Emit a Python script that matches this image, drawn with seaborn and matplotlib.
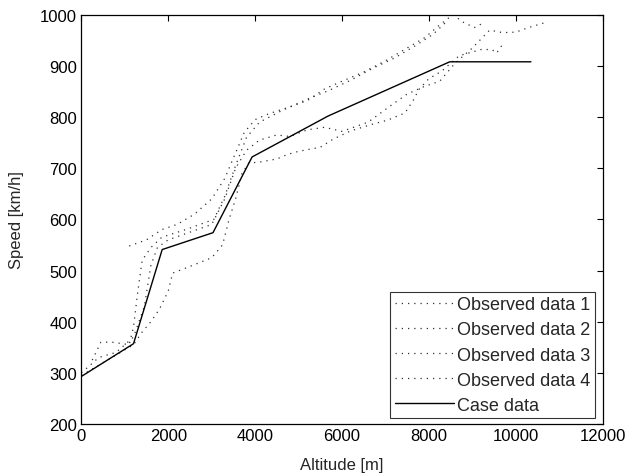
import matplotlib
matplotlib.use("Agg")
import matplotlib.pyplot as plt
import seaborn as sns
import pandas as pd

# ---- data ----
obs1_alt = [1100, 1500, 1850, 2200, 2600, 3000, 3300, 3550, 3750, 4000, 4300, 4800, 5200, 5600, 6000, 6500, 7000, 7500, 7900, 8250, 8550, 8800, 9050, 9300]
obs1_spd = [548, 560, 580, 590, 610, 640, 680, 730, 770, 795, 806, 820, 832, 855, 870, 888, 910, 935, 955, 980, 1000, 985, 975, 986]

obs2_alt = [0, 400, 800, 1200, 1450, 1600, 1750, 2000, 2500, 3000, 3300, 3550, 3800, 4100, 4500, 4800, 5200, 5600, 6000, 6600, 7100, 7500, 7900, 8250, 8600, 9000, 9400, 9700, 10000, 10300, 10650]
obs2_spd = [300, 330, 340, 370, 430, 510, 545, 560, 575, 590, 640, 700, 735, 755, 765, 762, 775, 780, 772, 790, 821, 845, 860, 870, 905, 935, 970, 965, 966, 975, 984]

obs3_alt = [0, 600, 1200, 1400, 1600, 1800, 2000, 2100, 2500, 3000, 3250, 3400, 3550, 3700, 3850, 4100, 4500, 4750, 5000, 5500, 5800, 6200, 6700, 7050, 7450, 7680, 7750, 8000, 8300, 8700, 9200, 9450, 9560, 9720]
obs3_spd = [295, 325, 355, 380, 400, 425, 460, 495, 508, 525, 550, 600, 640, 690, 710, 712, 718, 727, 733, 741, 757, 773, 786, 794, 808, 838, 852, 875, 890, 920, 932, 932, 925, 945]

obs4_alt = [250, 450, 700, 1100, 1200, 1300, 1400, 1600, 1850, 2400, 3050, 3300, 3550, 3800, 4100, 4600, 5200, 5700, 6200, 6700, 7200, 7700, 8100, 8450]
obs4_spd = [325, 360, 360, 355, 390, 460, 520, 545, 565, 580, 600, 645, 705, 760, 790, 812, 835, 852, 872, 895, 915, 940, 962, 990]

case_alt = [0, 1200, 1860, 3030, 3930, 5680, 8480, 10350]
case_spd = [293, 357, 541, 574, 722, 802, 908, 908]

labels = ["Observed data 1", "Observed data 2", "Observed data 3", "Observed data 4", "Case data"]
x_ticks = [0, 2000, 4000, 6000, 8000, 10000, 12000]
y_ticks = [200, 300, 400, 500, 600, 700, 800, 900, 1000]

sns.set_style("white")
plt.rcParams["font.family"] = ["Liberation Sans", "DejaVu Sans"]
plt.rcParams["font.size"] = 12

fig = plt.figure(figsize=(6.31, 4.77), dpi=100)
ax = fig.add_axes([0.129, 0.109, 0.826, 0.858])

obs = [(obs1_alt, obs1_spd), (obs2_alt, obs2_spd), (obs3_alt, obs3_spd), (obs4_alt, obs4_spd)]
for (xa, ya), lab in zip(obs, labels[:4]):
    df = pd.DataFrame({"alt": xa, "spd": ya})
    sns.lineplot(data=df, x="alt", y="spd", ax=ax, sort=False, estimator=None,
                 color="#303030", linewidth=0.9, linestyle=(0, (1, 4)), label=lab)

dfc = pd.DataFrame({"alt": case_alt, "spd": case_spd})
sns.lineplot(data=dfc, x="alt", y="spd", ax=ax, sort=False, estimator=None,
             color="black", linewidth=1.0, label=labels[4])

ax.set_xlim(0, 12000)
ax.set_ylim(200, 1000)
ax.set_xticks(x_ticks)
ax.set_yticks(y_ticks)
ax.tick_params(direction="in", length=4.5, width=0.8, top=True, right=True,
               labelsize=12, colors="black", pad=3)
for s in ax.spines.values():
    s.set_color("black")
    s.set_linewidth(0.9)
ax.set_xlabel("Altitude [m]", fontsize=12, labelpad=10)
ax.set_ylabel("Speed [km/h]", fontsize=12, labelpad=12)

leg = ax.legend(loc="lower right", bbox_to_anchor=(0.985, 0.014), fontsize=13,
                frameon=True, fancybox=False, handlelength=3.3, handletextpad=0.15,
                labelspacing=0.45, borderpad=0.25, borderaxespad=0.0)
leg.get_frame().set_edgecolor("black")
leg.get_frame().set_linewidth(0.8)

fig.savefig("out.png", dpi=100)
